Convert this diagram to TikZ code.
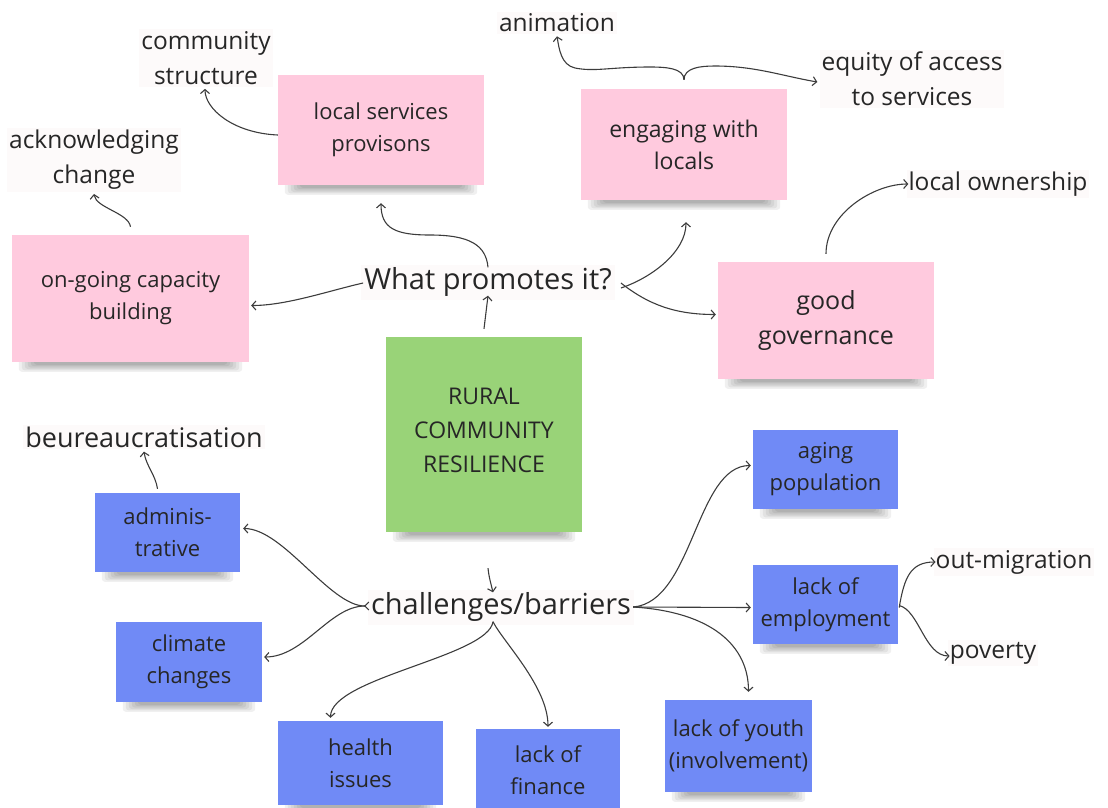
\documentclass[tikz,border=0pt]{standalone}
\usepackage{fontspec}
\setmainfont{Open Sans}
\usetikzlibrary{arrows.meta,backgrounds}
\definecolor{pinknote}{RGB}{255,202,222}
\definecolor{greennote}{RGB}{153,211,120}
\definecolor{bluenote}{RGB}{112,138,246}
\definecolor{ink}{RGB}{38,38,38}
\definecolor{labelbg}{RGB}{253,250,250}
\tikzset{
  note/.style={inner sep=0pt, align=center, text=ink, font=\fontsize{22}{32}\selectfont},
  pnote/.style={note, fill=pinknote},
  bnote/.style={note, fill=bluenote},
  gnote/.style={note, fill=greennote},
  lbl/.style={inner sep=2pt, align=center, text=ink, fill=labelbg, font=\fontsize{24.5}{35}\selectfont},
  hub/.style={inner sep=3pt, align=center, text=ink, fill=labelbg, font=\fontsize{29}{35}\selectfont},
  arr/.style={draw=ink!90, line width=1.1pt, -{Straight Barb[length=4pt,width=9pt]}},
  ln/.style={draw=ink!90, line width=1.1pt},
}
\newcommand{\noteshadow}[1]{%
  \foreach \i in {1,...,6}{%
    \fill[black,opacity=0.06,rounded corners=3pt]
      ([xshift={(4+3*\i)*1pt},yshift=4pt]#1.south west)
      rectangle ([xshift={(-4-3*\i)*1pt},yshift={(-11+1.4*\i)*1pt}]#1.south east);
  }}
\begin{document}
\begin{tikzpicture}[x=1pt,y=-1pt]
\useasboundingbox (0,0) rectangle (1108,807);
\clip (0,0) rectangle (1108,807);

% ---- notes ----
\node[pnote, minimum width=206, minimum height=110] (lsp) at (381,130) {local services\\provisons};
\node[pnote, minimum width=206, minimum height=111, font=\fontsize{23}{32}\selectfont] (eng) at (684,144.5) {engaging with\\locals};
\node[pnote, minimum width=237, minimum height=127] (ogc) at (130.5,298.5) {on-going capacity\\building};
\node[pnote, minimum width=216, minimum height=117, font=\fontsize{25}{35}\selectfont] (gg) at (826,320.5) {good\\governance};
\node[gnote, minimum width=196, minimum height=195] (core) at (484,434.5) {};
\node[note, font=\fontsize{23}{34}\selectfont] (coretext) at (484,430) {RURAL\\COMMUNITY\\RESILIENCE};

\node[bnote, minimum width=145, minimum height=79] (aging) at (825.5,469.5) {aging\\population};
\node[bnote, minimum width=145, minimum height=79] (loe) at (825.5,604.5) {lack of\\employment};
\node[bnote, minimum width=147, minimum height=92] (loy) at (738.5,746) {lack of youth\\(involvement)};
\node[bnote, minimum width=145, minimum height=79] (adm) at (167.5,532.5) {adminis-\\trative};
\node[bnote, minimum width=146, minimum height=80] (cc) at (189,662) {climate\\changes};
\node[bnote, minimum width=165, minimum height=84] (hi) at (360.5,763) {health\\issues};
\node[bnote, minimum width=144, minimum height=82] (lof) at (548,770) {lack of\\finance};

% ---- shadows ----
\begin{scope}[on background layer]
  \foreach \n in {lsp,eng,ogc,gg,core,aging,loe,loy,adm,cc,hi}{\noteshadow{\n}}
\end{scope}

% ---- labels ----
\node[lbl] (cs) at (206,58) {community\\structure};
\node[lbl] (ack) at (94,160) {acknowledging\\change};
\node[lbl] (anim) at (557,23) {animation};
\node[lbl] (eq) at (912,79) {equity of access\\to services};
\node[lbl] (lo) at (998,184) {local ownership};
\node[lbl, font=\fontsize{27}{35}\selectfont] (beu) at (144,437) {beureaucratisation};
\node[lbl] (om) at (1014,562) {out-migration};
\node[lbl] (pov) at (993,653) {poverty};
\node[hub] (wp) at (488,282) {What promotes it?};
\node[hub] (cb) at (501,607) {challenges/barriers};

% ---- connectors: upper half ----
\draw[arr] ([yshift=-5pt]lsp.west) .. controls +(-45,-2) and +(0,20) .. ([xshift=-1pt,yshift=-2pt]cs.south);
\draw[arr] ([xshift=0pt,yshift=8pt]ogc.north) .. controls +(-2,-14) and +(2,14) .. ([yshift=-2pt]ack.south);
\draw[arr] ([yshift=-3pt]wp.north) .. controls +(-2,-22) and +(40,0) .. (430,235)
           .. controls +(-35,0) and +(0,25) .. ([yshift=-18pt]lsp.south);
\draw[arr] ([xshift=2pt,yshift=-1pt]wp.west) .. controls +(-35,8) and +(35,0) .. ([xshift=2pt,yshift=-7pt]ogc.east);
\draw[arr] ([yshift=8pt]core.north) -- ([yshift=4pt]wp.south);
\draw[arr] ([xshift=6pt,yshift=-6pt]wp.east) .. controls +(30,-10) and +(0,30) .. ([xshift=2pt,yshift=-22pt]eng.south);
\draw[arr] ([xshift=6pt,yshift=-1pt]wp.east) .. controls +(28,22) and +(-40,0) .. ([xshift=-2pt,yshift=6pt]gg.west);
\draw[arr] ([yshift=9pt]eng.north) .. controls +(0,-12) and +(15,0) .. (650,67)
           .. controls +(-40,0) and +(20,4) .. (575,68) .. controls +(-14,-3) and +(2,12) .. ([xshift=0pt,yshift=-2pt]anim.south);
\draw[arr] ([yshift=9pt]eng.north) .. controls +(0,-12) and +(-15,0) .. (715,66)
           .. controls +(40,0) and +(-35,-6) .. ([xshift=-2pt,yshift=-3pt]eq.west);
\draw[arr] ([yshift=8pt]gg.north) .. controls +(0,-40) and +(-35,0) .. ([xshift=2pt]lo.west);

% ---- connectors: lower half ----
\draw[arr] ([yshift=-36pt,xshift=4pt]core.south) .. controls +(1,8) .. ([xshift=-8pt,yshift=-3pt]cb.north);
\coordinate (cbw) at ([xshift=-3pt,yshift=1pt]cb.west);
\draw[arr] (cbw) .. controls +(-35,0) and +(40,0) .. ([xshift=3pt,yshift=4pt]adm.east);
\draw[arr] (cbw) .. controls +(-35,0) and +(40,0) .. ([xshift=2pt,yshift=5pt]cc.east);
\draw[ln] ([xshift=4pt,yshift=-4pt]cbw) -- (cbw) -- ([xshift=4pt,yshift=4pt]cbw);
\coordinate (cbs) at ([xshift=-8pt,yshift=3pt]cb.south);
\draw[arr] (cbs) .. controls +(-5,35) and +(0,-40) .. ([xshift=-30pt,yshift=3pt]hi.north);
\draw[arr] (cbs) .. controls +(10,20) and +(0,-40) .. ([xshift=0pt,yshift=2pt]lof.north);
\coordinate (cbe) at ([xshift=-1pt,yshift=0pt]cb.east);
\draw[arr] (cbe) .. controls +(60,-5) and +(-55,0) .. ([xshift=-2pt,yshift=4pt]aging.west);
\draw[arr] (cbe) -- ([xshift=-2pt,yshift=-3pt]loe.west);
\draw[arr] (cbe) .. controls +(80,5) and +(0,-45) .. ([xshift=10pt,yshift=8pt]loy.north);
\draw[arr] ([xshift=1pt,yshift=-3pt]loe.east) .. controls +(5,-30) and +(-25,0) .. ([xshift=2pt,yshift=0pt]om.west);
\draw[arr] ([xshift=1pt,yshift=-1pt]loe.east) .. controls +(20,5) and +(-25,0) .. ([xshift=2pt,yshift=-3pt]pov.west);
\draw[arr] ([xshift=-10pt,yshift=4pt]adm.north) .. controls +(-2,-14) and +(2,14) .. ([yshift=-2pt]beu.south);
\end{tikzpicture}
\end{document}
